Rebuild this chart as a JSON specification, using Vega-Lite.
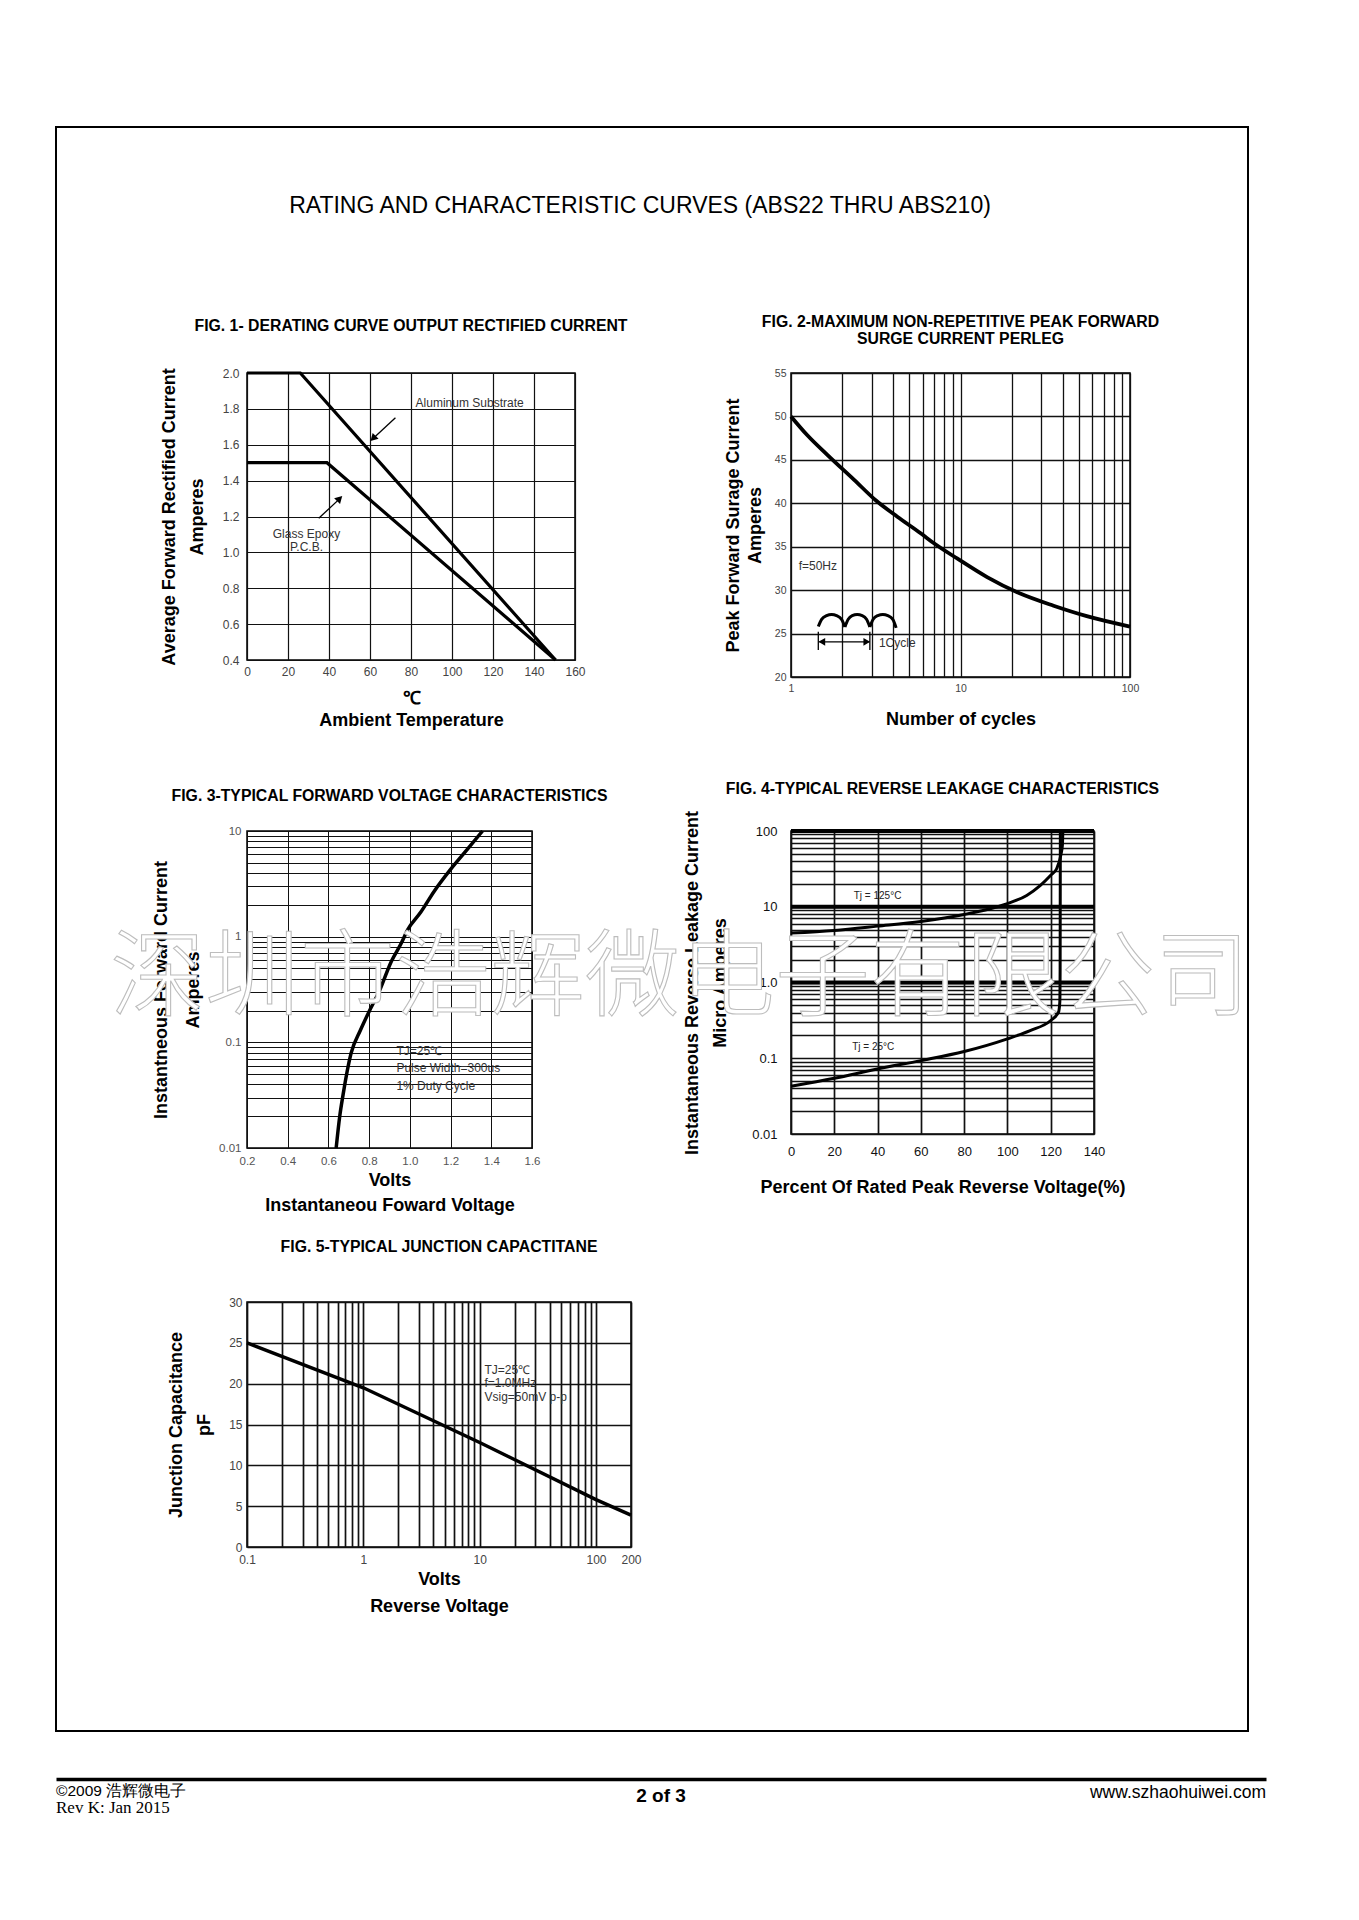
{
  "$schema": "https://vega.github.io/schema/vega-lite/v6.json",
  "background": "white",
  "autosize": {"type": "pad"},
  "padding": {"left": 55, "top": 126, "right": 16, "bottom": 16},
  "config": {
    "font": "Liberation Sans",
    "view": {"stroke": "black", "strokeWidth": 1.5},
    "axis": {"grid": true, "gridColor": "#111", "gridOpacity": 1, "gridWidth": 1.2, "domain": false, "ticks": false, "labelFont": "Liberation Sans", "labelFontSize": 12, "labelColor": "#444", "labelFlush": false, "labelOverlap": false, "titleFont": "Liberation Sans", "titleFontSize": 18, "titleFontWeight": "bold", "titleColor": "black", "minExtent": 0},
    "axisX": {"minExtent": 0},
    "axisY": {"minExtent": 0},
    "title": {"font": "Liberation Sans", "fontSize": 15.8, "fontWeight": "bold", "color": "black", "anchor": "middle", "lineHeight": 17},
    "text": {"font": "Liberation Sans"}
  },
  "datasets": {
    "fig1_curves": [
      {"series": "Aluminum Substrate", "x": 0, "y": 2.0},
      {"series": "Aluminum Substrate", "x": 26, "y": 2.0},
      {"series": "Aluminum Substrate", "x": 150.5, "y": 0.4},
      {"series": "Glass Epoxy P.C.B.", "x": 0, "y": 1.5},
      {"series": "Glass Epoxy P.C.B.", "x": 39, "y": 1.5},
      {"series": "Glass Epoxy P.C.B.", "x": 150.5, "y": 0.4}
    ],
    "fig1_labels": [
      {"label": "Aluminum Substrate", "x": 108.6, "y": 1.83},
      {"label": "Glass Epoxy", "x": 29, "y": 1.1},
      {"label": "P.C.B.", "x": 29, "y": 1.03}
    ],
    "fig1_arrows": [
      {"arrow": "aluminum", "x": 72.4, "y": 1.75, "x2": 61.5, "y2": 1.635},
      {"arrow": "glass", "x": 35, "y": 1.19, "x2": 45, "y2": 1.297}
    ],
    "fig1_heads": [
      {"arrow": "aluminum", "x": 61.5, "y": 1.635},
      {"arrow": "glass", "x": 45.2, "y": 1.3}
    ],
    "fig2_curve": [
      {"x": 1, "y": 50.0}, {"x": 1.253, "y": 47.8}, {"x": 1.644, "y": 45.55}, {"x": 2.358, "y": 42.7},
      {"x": 3.16, "y": 40.35}, {"x": 4.24, "y": 38.45}, {"x": 5.82, "y": 36.55}, {"x": 6.97, "y": 35.4},
      {"x": 9.55, "y": 33.65}, {"x": 14.35, "y": 31.5}, {"x": 22.5, "y": 29.6}, {"x": 35.4, "y": 28.2},
      {"x": 55.6, "y": 27.0}, {"x": 100, "y": 25.8}
    ],
    "fig2_wave": [
      {"hump": "1", "x": 1.449, "y": 25.82}, {"hump": "1", "x": 1.516, "y": 26.64}, {"hump": "1", "x": 1.622, "y": 27.07}, {"hump": "1", "x": 1.736, "y": 27.2}, {"hump": "1", "x": 1.857, "y": 27.07}, {"hump": "1", "x": 1.988, "y": 26.64}, {"hump": "1", "x": 2.08, "y": 25.76},
      {"hump": "2", "x": 2.08, "y": 25.76}, {"hump": "2", "x": 2.176, "y": 26.64}, {"hump": "2", "x": 2.297, "y": 27.07}, {"hump": "2", "x": 2.458, "y": 27.2}, {"hump": "2", "x": 2.63, "y": 27.07}, {"hump": "2", "x": 2.79, "y": 26.64}, {"hump": "2", "x": 2.919, "y": 25.76},
      {"hump": "3", "x": 2.919, "y": 25.76}, {"hump": "3", "x": 3.054, "y": 26.64}, {"hump": "3", "x": 3.253, "y": 27.07}, {"hump": "3", "x": 3.482, "y": 27.2}, {"hump": "3", "x": 3.725, "y": 27.07}, {"hump": "3", "x": 3.987, "y": 26.64}, {"hump": "3", "x": 4.171, "y": 25.66}
    ],
    "fig2_cycle": [
      {"x": 1.47, "x2": 2.9, "y": 24.05, "y2": 24.05},
      {"x": 1.449, "x2": 1.449, "y": 25.2, "y2": 23.1},
      {"x": 2.919, "x2": 2.919, "y": 25.2, "y2": 23.1}
    ],
    "fig2_heads": [
      {"dir": "left", "x": 1.52, "y": 24.05},
      {"dir": "right", "x": 2.8, "y": 24.05}
    ],
    "fig2_labels": [
      {"label": "f=50Hz", "x": 1.11, "y": 32.8},
      {"label": "1Cycle", "x": 3.3, "y": 23.86}
    ],
    "fig3_curve": [
      {"x": 0.638, "y": 0.01}, {"x": 0.655, "y": 0.0196}, {"x": 0.672, "y": 0.032}, {"x": 0.711, "y": 0.0785},
      {"x": 0.757, "y": 0.13}, {"x": 0.8, "y": 0.196}, {"x": 0.847, "y": 0.296}, {"x": 0.91, "y": 0.589},
      {"x": 0.957, "y": 0.86}, {"x": 0.989, "y": 1.16}, {"x": 1.054, "y": 1.71}, {"x": 1.119, "y": 2.68},
      {"x": 1.2, "y": 4.33}, {"x": 1.279, "y": 6.58}, {"x": 1.357, "y": 10}
    ],
    "fig3_labels": [
      {"label": "TJ=25℃", "x": 0.934, "y": 0.082},
      {"label": "Pulse Width=300us", "x": 0.934, "y": 0.0574},
      {"label": "1% Duty Cycle", "x": 0.934, "y": 0.039}
    ],
    "fig4_curves": [
      {"series": "Tj = 125°C", "x": 0, "y": 4.5}, {"series": "Tj = 125°C", "x": 20, "y": 4.87}, {"series": "Tj = 125°C", "x": 40, "y": 5.55}, {"series": "Tj = 125°C", "x": 60, "y": 6.4},
      {"series": "Tj = 125°C", "x": 80, "y": 7.9}, {"series": "Tj = 125°C", "x": 92, "y": 9.4}, {"series": "Tj = 125°C", "x": 100, "y": 11}, {"series": "Tj = 125°C", "x": 108.9, "y": 14.1},
      {"series": "Tj = 125°C", "x": 115.1, "y": 19}, {"series": "Tj = 125°C", "x": 120, "y": 26}, {"series": "Tj = 125°C", "x": 122.8, "y": 32}, {"series": "Tj = 125°C", "x": 124.8, "y": 50},
      {"series": "Tj = 125°C", "x": 125.4, "y": 65}, {"series": "Tj = 125°C", "x": 125.6, "y": 100},
      {"series": "Tj = 25°C", "x": 0, "y": 0.0427}, {"series": "Tj = 25°C", "x": 20, "y": 0.0544}, {"series": "Tj = 25°C", "x": 40, "y": 0.0723}, {"series": "Tj = 25°C", "x": 60, "y": 0.093},
      {"series": "Tj = 25°C", "x": 80, "y": 0.1225}, {"series": "Tj = 25°C", "x": 100, "y": 0.18}, {"series": "Tj = 25°C", "x": 110.5, "y": 0.232}, {"series": "Tj = 25°C", "x": 120, "y": 0.315},
      {"series": "Tj = 25°C", "x": 123.6, "y": 0.405}, {"series": "Tj = 25°C", "x": 124.2, "y": 0.55}, {"series": "Tj = 25°C", "x": 124.35, "y": 1.5}, {"series": "Tj = 25°C", "x": 124.45, "y": 100}
    ],
    "fig4_heavy_grid": [{"y": 100}, {"y": 10}, {"y": 1}],
    "fig4_labels": [
      {"label": "Tj = 125°C", "x": 40, "y": 14},
      {"label": "Tj = 25°C", "x": 38, "y": 0.14}
    ],
    "fig5_curve": [
      {"x": 0.1, "y": 25.0}, {"x": 1, "y": 19.5}, {"x": 10, "y": 12.8}, {"x": 100, "y": 5.8}, {"x": 200, "y": 3.9}
    ],
    "fig5_labels": [
      {"label": "TJ=25℃", "x": 11, "y": 21.7},
      {"label": "f=1.0MHz", "x": 11, "y": 20.1},
      {"label": "Vsig=50mV p-p", "x": 11, "y": 18.4}
    ],
    "watermark": [{"text": "深圳市浩辉微电子有限公司"}],
    "footer": [
      {"slot": "left", "line": "l1", "text": "©2009 浩辉微电子"},
      {"slot": "left", "line": "l2", "text": "Rev K:  Jan  2015"},
      {"slot": "center", "line": "l1", "text": "2 of 3"},
      {"slot": "right", "line": "l1", "text": "www.szhaohuiwei.com"}
    ]
  },
  "vconcat": [
    {
      "concat": [
        {
          "hconcat": [
            {"width": 1, "height": 1, "data": {"values": []}, "mark": "point", "view": {"stroke": null}},
            {
              "concat": [
                {
                  "width": 328, "height": 287,
                  "title": {"text": "FIG. 1- DERATING CURVE OUTPUT RECTIFIED CURRENT", "offset": 32},
                  "encoding": {
                    "x": {"field": "x", "type": "quantitative", "scale": {"domain": [0, 160], "nice": false, "zero": false},
                      "axis": {"values": [0, 20, 40, 60, 80, 100, 120, 140, 160], "title": ["℃", "Ambient Temperature"], "titleLineHeight": 22, "labelPadding": 6, "titlePadding": 12}},
                    "y": {"field": "y", "type": "quantitative", "scale": {"domain": [0.4, 2.0], "nice": false, "zero": false},
                      "axis": {"values": [0.4, 0.6, 0.8, 1.0, 1.2, 1.4, 1.6, 1.8, 2.0], "format": ".1f", "title": ["Average Forward Rectified Current", "Amperes"], "titleLineHeight": 28, "labelPadding": 8, "titlePadding": 16}}
                  },
                  "layer": [
                    {"data": {"name": "fig1_curves"}, "mark": {"type": "line", "color": "black", "strokeWidth": 3.2}, "encoding": {"detail": {"field": "series", "type": "nominal"}}},
                    {"data": {"name": "fig1_arrows"}, "mark": {"type": "rule", "color": "black", "strokeWidth": 1.3}, "encoding": {"x2": {"field": "x2"}, "y2": {"field": "y2"}}},
                    {"data": {"name": "fig1_heads"}, "transform": [{"filter": "datum.arrow == 'aluminum'"}], "mark": {"type": "point", "shape": "triangle-up", "angle": 225, "filled": true, "color": "black", "size": 70, "opacity": 1}},
                    {"data": {"name": "fig1_heads"}, "transform": [{"filter": "datum.arrow == 'glass'"}], "mark": {"type": "point", "shape": "triangle-up", "angle": 45, "filled": true, "color": "black", "size": 70, "opacity": 1}},
                    {"data": {"name": "fig1_labels"}, "mark": {"type": "text", "fontSize": 12, "color": "#333"}, "encoding": {"text": {"field": "label", "type": "nominal"}}}
                  ]
                },
                {
                  "width": 339, "height": 304,
                  "title": {"text": ["FIG. 2-MAXIMUM NON-REPETITIVE PEAK FORWARD", "SURGE CURRENT PERLEG"], "offset": 20},
                  "encoding": {
                    "x": {"field": "x", "type": "quantitative", "scale": {"type": "log", "domain": [1, 100], "nice": false},
                      "axis": {"values": [1, 2, 3, 4, 5, 6, 7, 8, 9, 10, 20, 30, 40, 50, 60, 70, 80, 90, 100], "labelExpr": "indexof([1,10,100], datum.value) >= 0 ? format(datum.value, '~g') : ''", "title": "Number of cycles", "labelFontSize": 10.5, "labelPadding": 6, "titlePadding": 17, "gridWidth": 1.3}},
                    "y": {"field": "y", "type": "quantitative", "scale": {"domain": [20, 55], "nice": false, "zero": false},
                      "axis": {"values": [20, 25, 30, 35, 40, 45, 50, 55], "title": ["Peak Forward Surage Current", "Amperes"], "titleLineHeight": 22, "labelFontSize": 10.5, "labelPadding": 5, "titlePadding": 10, "gridWidth": 1.3}}
                  },
                  "layer": [
                    {"data": {"name": "fig2_curve"}, "mark": {"type": "line", "color": "black", "strokeWidth": 3.8, "interpolate": "monotone"}},
                    {"data": {"name": "fig2_wave"}, "mark": {"type": "line", "color": "black", "strokeWidth": 3, "interpolate": "monotone"}, "encoding": {"detail": {"field": "hump", "type": "nominal"}}},
                    {"data": {"name": "fig2_cycle"}, "mark": {"type": "rule", "color": "black", "strokeWidth": 1.3}, "encoding": {"x2": {"field": "x2"}, "y2": {"field": "y2"}}},
                    {"data": {"name": "fig2_heads"}, "mark": {"type": "point", "filled": true, "color": "black", "size": 60, "opacity": 1}, "encoding": {"shape": {"field": "dir", "type": "nominal", "scale": {"domain": ["left", "right"], "range": ["triangle-left", "triangle-right"]}, "legend": null}}},
                    {"data": {"name": "fig2_labels"}, "mark": {"type": "text", "align": "left", "fontSize": 12, "color": "#333"}, "encoding": {"text": {"field": "label", "type": "nominal"}}}
                  ]
                },
                {
                  "width": 285, "height": 317,
                  "title": {"text": "FIG. 3-TYPICAL FORWARD VOLTAGE CHARACTERISTICS", "offset": 19},
                  "encoding": {
                    "x": {"field": "x", "type": "quantitative", "scale": {"domain": [0.2, 1.6], "nice": false, "zero": false},
                      "axis": {"values": [0.2, 0.4, 0.6, 0.8, 1.0, 1.2, 1.4, 1.6], "format": ".1f", "title": ["Volts", "Instantaneou Foward Voltage"], "titleLineHeight": 25, "labelFontSize": 11.5, "labelColor": "#555", "labelPadding": 7, "titlePadding": 5, "gridWidth": 1}},
                    "y": {"field": "y", "type": "quantitative", "scale": {"type": "log", "domain": [0.01, 10], "nice": false},
                      "axis": {"values": [0.01, 0.02, 0.03, 0.04, 0.05, 0.06, 0.07, 0.08, 0.09, 0.1, 0.2, 0.3, 0.4, 0.5, 0.6, 0.7, 0.8, 0.9, 1, 2, 3, 4, 5, 6, 7, 8, 9, 10], "labelExpr": "indexof([0.01,0.1,1,10], datum.value) >= 0 ? format(datum.value, '~g') : ''", "title": ["Instantneous Forward Current", "Amperes"], "titleLineHeight": 32, "labelFontSize": 11.5, "labelColor": "#555", "labelPadding": 6, "titlePadding": 16, "gridWidth": 1}}
                  },
                  "layer": [
                    {"data": {"name": "fig3_curve"}, "mark": {"type": "line", "color": "black", "strokeWidth": 3.5, "interpolate": "monotone"}},
                    {"data": {"name": "fig3_labels"}, "mark": {"type": "text", "align": "left", "fontSize": 12, "color": "#333"}, "encoding": {"text": {"field": "label", "type": "nominal"}}}
                  ]
                },
                {
                  "width": 303, "height": 303,
                  "title": {"text": "FIG. 4-TYPICAL REVERSE LEAKAGE  CHARACTERISTICS", "offset": 13},
                  "encoding": {
                    "x": {"field": "x", "type": "quantitative", "scale": {"domain": [0, 140], "nice": false, "zero": false},
                      "axis": {"values": [0, 20, 40, 60, 80, 100, 120, 140], "title": "Percent Of Rated Peak Reverse Voltage(%)", "labelFontSize": 13, "labelColor": "#111", "labelPadding": 11, "titlePadding": 20, "gridWidth": 1.7}},
                    "y": {"field": "y", "type": "quantitative", "scale": {"type": "log", "domain": [0.01, 100], "nice": false},
                      "axis": {"values": [0.01, 0.02, 0.03, 0.04, 0.05, 0.06, 0.07, 0.08, 0.09, 0.1, 0.2, 0.3, 0.4, 0.5, 0.6, 0.7, 0.8, 0.9, 1, 2, 3, 4, 5, 6, 7, 8, 9, 10, 20, 30, 40, 50, 60, 70, 80, 90, 100], "labelExpr": "datum.value == 1 ? '1.0' : (indexof([0.01,0.1,10,100], datum.value) >= 0 ? format(datum.value, '~g') : '')", "title": ["Instantaneous Reverse Leakage Current", "Micro Amperes"], "titleLineHeight": 28, "labelFontSize": 13, "labelColor": "#111", "labelPadding": 14, "titlePadding": 22, "gridWidth": 1.7}}
                  },
                  "layer": [
                    {"data": {"name": "fig4_heavy_grid"}, "mark": {"type": "rule", "color": "black", "strokeWidth": 4}, "encoding": {"x": null}},
                    {"data": {"name": "fig4_curves"}, "mark": {"type": "line", "color": "black", "strokeWidth": 3, "interpolate": "monotone"}, "encoding": {"detail": {"field": "series", "type": "nominal"}}},
                    {"data": {"name": "fig4_labels"}, "mark": {"type": "text", "fontSize": 10, "color": "#222"}, "encoding": {"text": {"field": "label", "type": "nominal"}}}
                  ]
                },
                {
                  "width": 384, "height": 245,
                  "title": {"text": "FIG. 5-TYPICAL JUNCTION CAPACTITANE", "offset": 40},
                  "encoding": {
                    "x": {"field": "x", "type": "quantitative", "scale": {"type": "log", "domain": [0.1, 200], "nice": false},
                      "axis": {"values": [0.1, 0.2, 0.3, 0.4, 0.5, 0.6, 0.7, 0.8, 0.9, 1, 2, 3, 4, 5, 6, 7, 8, 9, 10, 20, 30, 40, 50, 60, 70, 80, 90, 100, 200], "labelExpr": "indexof([0.1,1,10,100,200], datum.value) >= 0 ? format(datum.value, '~g') : ''", "title": ["Volts", "Reverse Voltage"], "titleLineHeight": 27, "labelPadding": 7, "titlePadding": 5, "gridWidth": 1.7}},
                    "y": {"field": "y", "type": "quantitative", "scale": {"domain": [0, 30], "nice": false},
                      "axis": {"values": [0, 5, 10, 15, 20, 25, 30], "title": ["Junction Capacitance", "pF"], "titleLineHeight": 28, "labelPadding": 5, "titlePadding": 15, "gridWidth": 1.7}}
                  },
                  "layer": [
                    {"data": {"name": "fig5_curve"}, "mark": {"type": "line", "color": "black", "strokeWidth": 3.5}},
                    {"data": {"name": "fig5_labels"}, "mark": {"type": "text", "align": "left", "fontSize": 12, "color": "#333"}, "encoding": {"text": {"field": "label", "type": "nominal"}}}
                  ]
                }
              ],
              "columns": 2,
              "bounds": "flush",
              "align": "each",
              "spacing": {"row": 154, "column": 160}
            }
          ],
          "spacing": 94
        },
        {
          "width": 1192, "height": 1604,
          "view": {"stroke": "black", "strokeWidth": 2},
          "title": {"text": "RATING AND CHARACTERISTIC CURVES (ABS22 THRU ABS210)", "fontSize": 23, "fontWeight": "normal", "offset": -109, "baseline": "alphabetic", "dx": -12},
          "data": {"name": "watermark"},
          "mark": {"type": "text", "font": "Noto Sans CJK SC", "fontSize": 95, "fontWeight": 300, "fill": "white", "stroke": "#bdbdbd", "strokeWidth": 1.1, "dx": 28, "dy": 51},
          "encoding": {"text": {"field": "text", "type": "nominal"}}
        }
      ],
      "columns": 1,
      "align": "none",
      "spacing": -1490
    },
    {
      "width": 1210, "height": 41,
      "view": {"stroke": null},
      "data": {"name": "footer"},
      "encoding": {
        "x": {"field": "slot", "type": "nominal", "scale": {"type": "point", "domain": ["left", "center", "right"], "padding": 0},
          "axis": {"orient": "top", "domain": true, "domainColor": "black", "domainWidth": 3.5, "labels": false, "ticks": false, "grid": false, "title": null}},
        "y": {"field": "line", "type": "nominal", "scale": {"type": "point", "domain": ["l1", "l2"], "padding": 0.7}, "axis": null},
        "text": {"field": "text", "type": "nominal"}
      },
      "layer": [
        {"transform": [{"filter": "datum.slot == 'left' && datum.line == 'l1'"}], "mark": {"type": "text", "align": "left", "font": "Liberation Sans", "fontSize": 15.5, "color": "black"}},
        {"transform": [{"filter": "datum.slot == 'left' && datum.line == 'l2'"}], "mark": {"type": "text", "align": "left", "font": "Liberation Serif", "fontSize": 17, "color": "black"}},
        {"transform": [{"filter": "datum.slot == 'center'"}], "mark": {"type": "text", "align": "center", "font": "Liberation Sans", "fontSize": 19, "fontWeight": "bold", "color": "black", "dy": 5}},
        {"transform": [{"filter": "datum.slot == 'right'"}], "mark": {"type": "text", "align": "right", "font": "Liberation Sans", "fontSize": 17.5, "color": "black", "dy": 2}}
      ]
    }
  ],
  "spacing": 47
}
